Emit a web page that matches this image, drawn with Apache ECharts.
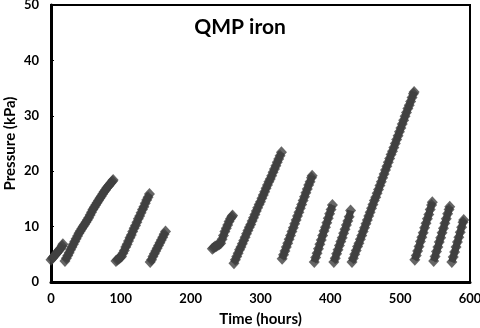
<!DOCTYPE html>
<html>
<head>
<meta charset="utf-8">
<script src="https://cdn.jsdelivr.net/npm/echarts@6/dist/echarts.min.js"></script>
<style>
  html, body { margin: 0; padding: 0; background: #fff; }
  #chart { width: 480px; height: 328px; }
</style>
</head>
<body>
<div id="chart"></div>
<script>
// pressure build-up cycles, [time (hours), pressure (kPa)]
const cycle1 = [[0,4.0],[2,4.3],[4,4.6],[6,4.9],[8,5.2],[10,5.5],[12,5.8],[14,6.1],[16,6.5],[17,6.8]];
const cycle2 = [[20,3.8],[22,4.3],[24,4.8],[26,5.3],[28,5.8],[30,6.3],[32,6.8],[34,7.3],[36,7.8],[38,8.3],
  [40,8.8],[42,9.2],[44,9.6],[46,10.0],[48,10.4],[50,10.8],[52,11.2],[54,11.6],[56,12.1],[58,12.6],
  [60,13.1],[62,13.5],[64,13.9],[66,14.3],[68,14.7],[70,15.1],[72,15.5],[74,15.9],[76,16.3],[78,16.6],
  [80,17.0],[82,17.3],[84,17.6],[86,17.9],[88,18.2],[89,18.4]];
const cycle3 = [[93,3.8],[95,4.0],[97,4.2],[99,4.4],[101,4.6],[103,5.2],[105,5.7],[107,6.3],[109,6.8],[111,7.4],
  [113,8.0],[115,8.5],[117,9.1],[119,9.7],[121,10.2],[123,10.8],[125,11.4],[127,11.9],[129,12.5],[131,13.1],
  [133,13.6],[135,14.2],[137,14.8],[139,15.3],[141,15.9]];
const cycle4 = [[142,3.6],[144,4.0],[146,4.6],[148,5.1],[150,5.6],[152,6.1],[154,6.6],[156,7.1],[158,7.6],
  [160,8.1],[162,8.6],[164,9.1]];
const cycle5 = [[231,6.0],[233,6.2],[235,6.4],[237,6.5],[239,6.7],[241,6.8],[243,7.0],[245,7.7],[247,8.4],
  [249,9.1],[251,9.7],[253,10.3],[255,10.9],[257,11.4],[259,11.8],[260,12.0]];
const cycle6 = [[262,3.4],[264,4.0],[266,4.6],[268,5.2],[270,5.8],[272,6.3],[274,6.9],[276,7.5],[278,8.1],
  [280,8.7],[282,9.3],[284,9.9],[286,10.4],[288,11.0],[290,11.6],[292,12.2],[294,12.8],[296,13.4],[298,14.0],
  [300,14.5],[302,15.1],[304,15.7],[306,16.3],[308,16.9],[310,17.5],[312,18.1],[314,18.6],[316,19.2],
  [318,19.8],[320,20.4],[322,21.0],[324,21.6],[326,22.2],[328,22.8],[330,23.4]];
const cycle7 = [[331,4.2],[333,4.9],[335,5.6],[337,6.3],[339,7.0],[341,7.7],[343,8.4],[345,9.1],[347,9.8],
  [349,10.5],[351,11.2],[353,11.9],[355,12.6],[357,13.3],[359,14.0],[361,14.7],[363,15.4],[365,16.1],
  [367,16.8],[369,17.5],[371,18.1],[373,18.8],[374,19.2]];
const cycle8 = [[377,3.6],[379,4.4],[381,5.2],[383,6.0],[385,6.8],[387,7.6],[389,8.4],[391,9.2],[393,9.9],
  [395,10.7],[397,11.5],[399,12.3],[401,13.1],[403,13.9]];
const cycle9 = [[405,3.6],[407,4.3],[409,5.1],[411,5.8],[413,6.6],[415,7.3],[417,8.0],[419,8.8],[421,9.5],
  [423,10.3],[425,11.0],[427,11.8],[429,12.9]];
const cycle10 = [[431,3.6],[433,4.3],[435,5.0],[437,5.7],[439,6.4],[441,7.0],[443,7.7],[445,8.4],[447,9.1],
  [449,9.8],[451,10.5],[453,11.2],[455,11.9],[457,12.6],[459,13.3],[461,14.0],[463,14.7],[465,15.3],
  [467,16.0],[469,16.7],[471,17.4],[473,18.1],[475,18.8],[477,19.5],[479,20.2],[481,20.9],[483,21.6],
  [485,22.3],[487,23.0],[489,23.6],[491,24.3],[493,25.0],[495,25.7],[497,26.4],[499,27.1],[501,27.8],
  [503,28.5],[505,29.2],[507,29.9],[509,30.6],[511,31.3],[513,31.9],[515,32.6],[517,33.3],[519,34.0],[520,34.3]];
const cycle11 = [[521,4.0],[523,4.8],[525,5.6],[527,6.4],[529,7.3],[531,8.1],[533,8.9],[535,9.8],[537,10.6],
  [539,11.4],[541,12.2],[543,13.1],[545,13.9],[546,14.4]];
const cycle12 = [[548,3.8],[550,4.6],[552,5.5],[554,6.3],[556,7.2],[558,8.0],[560,8.9],[562,9.7],[564,10.6],
  [566,11.4],[568,12.3],[570,13.1],[571,13.6]];
const cycle13 = [[574,3.6],[576,4.5],[578,5.4],[580,6.3],[582,7.2],[584,8.1],[586,9.0],[588,9.9],[590,10.8],[591,11.2]];

const allCycles = [cycle1, cycle2, cycle3, cycle4, cycle5, cycle6, cycle7, cycle8, cycle9, cycle10, cycle11, cycle12, cycle13];

const font = 'Lato, "Open Sans", sans-serif';
const markColor = '#404040';

const series = [];
allCycles.forEach((c, i) => {
  // thick line underneath so the diamonds read as one solid band
  series.push({
    name: 'band' + (i + 1),
    type: 'line',
    data: c,
    showSymbol: false,
    lineStyle: { color: markColor, width: 7 },
    silent: true
  });
  series.push({
    name: 'cycle' + (i + 1),
    type: 'scatter',
    symbol: 'diamond',
    symbolSize: [11, 12],
    itemStyle: { color: markColor },
    data: c
  });
});

const myChart = echarts.init(document.getElementById('chart'));
myChart.setOption({
  animation: false,
  title: {
    text: 'QMP iron',
    left: 'center',
    top: 12,
    textStyle: { fontFamily: font, fontSize: 21, fontWeight: 'bold', color: '#000' }
  },
  grid: {
    left: 51, right: 10, top: 5, bottom: 46,
    outerBoundsMode: 'none',
    containLabel: false,
    show: true, borderColor: '#000', borderWidth: 2
  },
  xAxis: {
    type: 'value',
    min: 0, max: 600, interval: 100,
    name: 'Time (hours)',
    nameLocation: 'middle',
    nameGap: 30,
    nameMoveOverlap: false,
    nameTextStyle: { fontFamily: font, fontSize: 15, fontWeight: 'bold', color: '#000' },
    axisLine: { show: true, lineStyle: { color: '#000', width: 3 } },
    axisTick: { show: false },
    axisLabel: { fontFamily: font, fontSize: 13, fontWeight: 'bold', color: '#000', margin: 10 },
    splitLine: { show: false }
  },
  yAxis: {
    type: 'value',
    min: 0, max: 50, interval: 10,
    name: 'Pressure (kPa)',
    nameLocation: 'middle',
    nameGap: 33,
    nameMoveOverlap: false,
    nameTextStyle: { fontFamily: font, fontSize: 15, fontWeight: 'bold', color: '#000' },
    axisLine: { show: true, lineStyle: { color: '#000', width: 3 } },
    axisTick: { show: true, inside: true, length: 3, lineStyle: { color: '#000', width: 1 } },
    axisLabel: { fontFamily: font, fontSize: 13, fontWeight: 'bold', color: '#000', margin: 12 },
    splitLine: { show: false }
  },
  series: series
});
</script>
</body>
</html>
